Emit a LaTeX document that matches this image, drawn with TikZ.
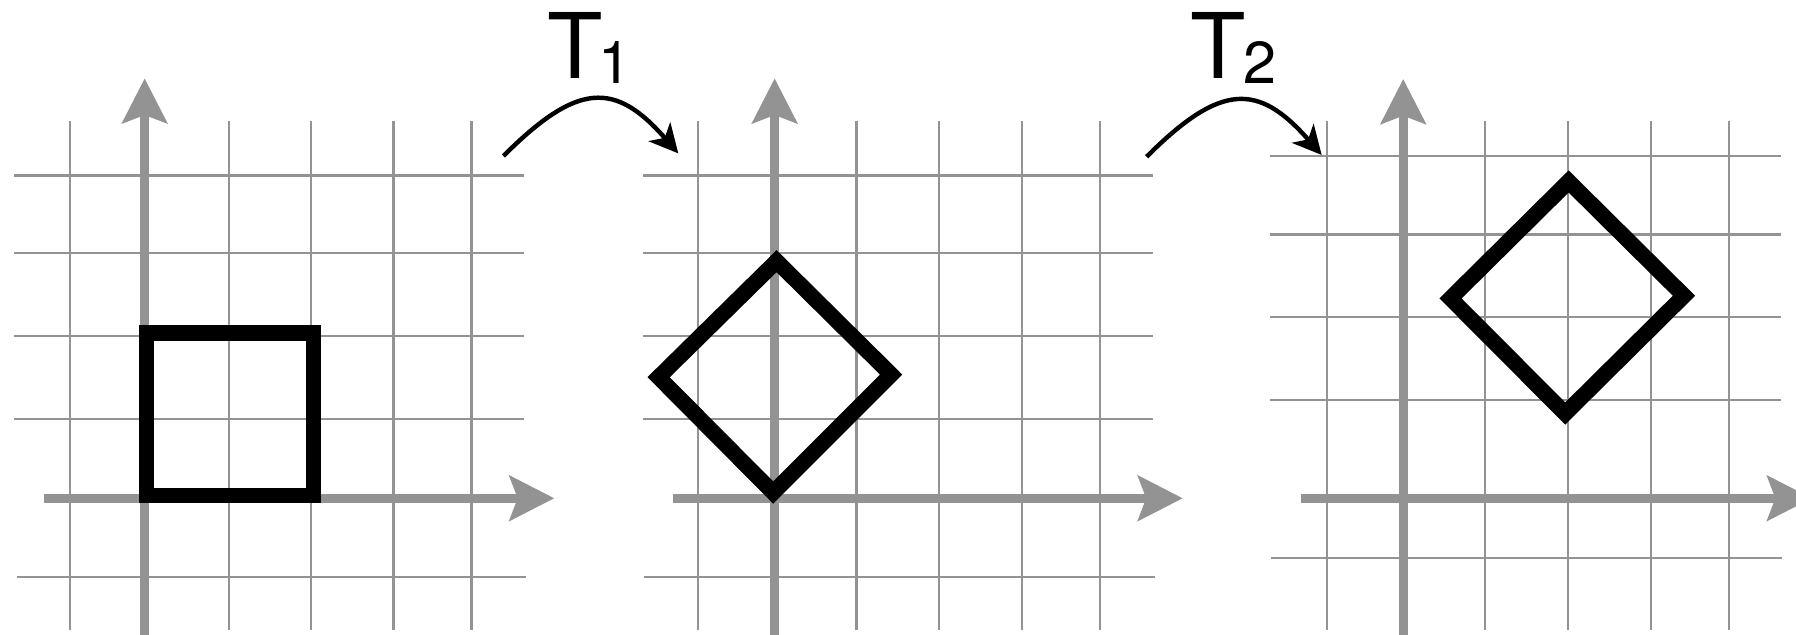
\documentclass[tikz,border=0pt]{standalone}
\usepackage{fontspec}
\setmainfont{TeX Gyre Heros}
\usepackage{tikz}
\usetikzlibrary{arrows.meta,positioning}
\usepackage{xcolor}
\definecolor{axisgray}{RGB}{147,147,147}

\begin{document}
\begin{tikzpicture}[
    x=0.01cm, y=-0.01cm,
    gridline/.style={draw=axisgray, line width=0.55pt},
    axis/.style={draw=axisgray, line width=2.2pt, -{Stealth[length=0.39cm, width=0.39cm, inset=0.07cm]}},
    figure/.style={draw=black, line width=3.9pt, line join=miter},
    maparrow/.style={-{Stealth[length=0.25cm, width=0.25cm, inset=0.07cm]}, line width=1.1pt},
    lbl/.style={inner sep=0pt, anchor=base west, font=\fontsize{22.5}{24}\selectfont}
  ]
    \useasboundingbox (0,0) rectangle (1568,554);

    % first grid
    \foreach \gx in {60.8,199.6,271.3,343.6,411.6}
      \draw[gridline] (\gx,105.5) -- (\gx,550);
    \foreach \gy in {153.2,221.1,293.2,365.5}
      \draw[gridline] (12.5,\gy) -- (457.7,\gy);
    \draw[gridline] (14.7,503.8) -- (459.5,503.8);
    \draw[axis] (38.4,435) -- (484,435);
    \draw[axis] (126.3,560) -- (126.3,68.4);
    \draw[figure] (127.8,290.6) rectangle (273.8,432.7);

    % second grid
    \foreach \gx in {609.3,747.7,820.1,892.4,960.4}
      \draw[gridline] (\gx,105.5) -- (\gx,550);
    \foreach \gy in {153.2,221.1,293.2,365.5}
      \draw[gridline] (561,\gy) -- (1006.8,\gy);
    \draw[gridline] (562.2,503.8) -- (1008,503.8);
    \draw[axis] (587.5,435) -- (1032.7,435);
    \draw[axis] (676.3,560) -- (676.3,68.4);
    \draw[figure] (678,228) -- (778,327) -- (675,430) -- (575,329.3) -- cycle;

    % third grid
    \foreach \gx in {1158.5,1296.8,1368.9,1441.2,1509.5}
      \draw[gridline] (\gx,105.5) -- (\gx,550);
    \foreach \gy in {136.5,204.8,276.8,349.2}
      \draw[gridline] (1108.8,\gy) -- (1554.6,\gy);
    \draw[gridline] (1110,487.2) -- (1556,487.2);
    \draw[axis] (1135.8,435) -- (1582,435);
    \draw[axis] (1225.1,560) -- (1225.1,69);
    \draw[figure] (1369.5,158.4) -- (1470.2,258.2) -- (1366.5,361) -- (1266.4,260.5) -- cycle;

    % maps
    \node[lbl] (t1) at (477.2,68.4) {T\kern-1pt\raisebox{-1.2pt}{\fontsize{14.7}{15}\selectfont 1}};
    \node[lbl] (t2) at (1038.3,68.4) {T\kern-0.5pt\raisebox{-1.2pt}{\fontsize{14.7}{15}\selectfont 2}};

    \coordinate (s1) at (439.5,136.2);
    \coordinate (e1) at (592.2,133.9);
    \coordinate (s2) at (1001.1,136.8);
    \coordinate (e2) at (1153.9,135.3);
    \draw[maparrow] (s1) .. controls +(65,-65) and +(-55,-63) .. (e1);
    \draw[maparrow] (s2) .. controls +(65,-65) and +(-55,-63) .. (e2);
  \end{tikzpicture}
\end{document}
